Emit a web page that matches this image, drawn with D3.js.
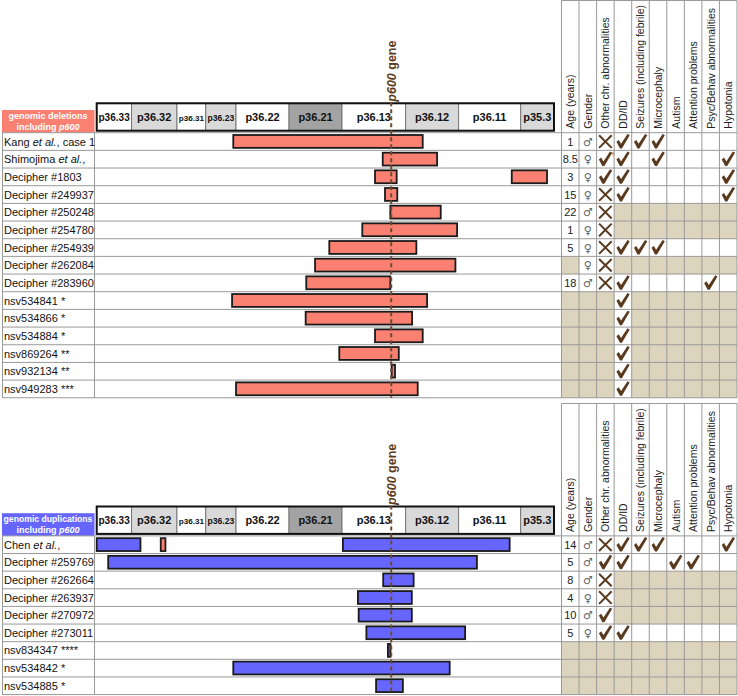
<!DOCTYPE html>
<html>
<head>
<meta charset="utf-8">
<script src="https://cdn.jsdelivr.net/npm/d3@7/dist/d3.min.js"></script>
<style>
  html, body { margin: 0; padding: 0; background: #ffffff; }
  svg { display: block; font-family: "Liberation Sans", Arial, sans-serif; }
</style>
</head>
<body>
<svg id="chart" width="738" height="696"></svg>
<script>
// ---------------- DATA ----------------
const bandNames  = ["p36.33","p36.32","p36.31","p36.23","p36.22","p36.21","p36.13","p36.12","p36.11","p35.3"];
const bandStarts = [0, 2.3, 5.3, 7.2, 9.2, 12.7, 16.2, 20.4, 23.9, 28.0];
const bandEnds   = [2.3, 5.3, 7.2, 9.2, 12.7, 16.2, 20.4, 23.9, 28.0, 30.2];
const bandStain  = ["gneg","gpos25","gneg","gpos25","gneg","gpos50","gneg","gpos25","gneg","gpos25"];
const genePos = 19.45;   // Mb, p600 (UBR4)

const featureColumns = ["Age (years)","Gender","Other chr. abnormalities","DD/ID",
  "Seizures (including febrile)","Microcephaly","Autism","Attention problems",
  "Psyc/Behav abnormalities","Hypotonia"];

// Deletions (labels: |...| = italic)
const delLabels = ["Kang |et al.|, case 1","Shimojima |et al.|,","Decipher #1803","Decipher #249937",
  "Decipher #250248","Decipher #254780","Decipher #254939","Decipher #262084","Decipher #283960",
  "nsv534841 *","nsv534866 *","nsv534884 *","nsv869264 **","nsv932134 **","nsv949283 ***"];
const delSegments = [
  [[9.02,21.53,"del"]],
  [[18.89,22.48,"del"]],
  [[18.38,19.81,"del"],[27.41,29.74,"del"]],
  [[19.04,19.85,"del"]],
  [[19.39,22.72,"del"]],
  [[17.54,23.80,"del"]],
  [[15.36,21.11,"del"]],
  [[14.42,23.69,"del"]],
  [[13.84,19.39,"del"]],
  [[8.94,21.82,"del"]],
  [[13.80,20.83,"del"]],
  [[18.38,21.53,"del"]],
  [[16.02,19.95,"del"]],
  [[19.48,19.70,"del"]],
  [[9.20,21.20,"del"]]
];
const delAge    = ["1","8.5","3","15","22","1","5",null,"18",null,null,null,null,null,null];
const delGender = ["M","F","F","F","M","F","F","F","M",null,null,null,null,null,null];
const delOther  = ["N","Y†","Y","N","N","N","N","N","N",null,null,null,null,null,null];
const N7 = [null,null,null,null,null,null,null];
const D7 = ["Y",null,null,null,null,null,null];
const delFeatures = [
  ["Y","Y","Y","","","",""],
  ["Y","","Y","","","","Y"],
  ["Y","","","","","","Y"],
  ["Y","","","","","","Y"],
  N7, N7,
  ["Y","Y","Y","","","",""],
  N7,
  ["Y","","","","","Y",""],
  D7, D7, D7, D7, D7, D7
];

// Duplications
const dupLabels = ["Chen |et al.|,","Decipher #259769","Decipher #262664","Decipher #263937",
  "Decipher #270972","Decipher #273011","nsv834347 ****","nsv534842 *","nsv534885 *"];
const dupSegments = [
  [[0.0,2.89,"dup"],[4.23,4.54,"del"],[16.26,27.27,"dup"]],
  [[0.76,25.11,"dup"]],
  [[18.92,20.93,"dup"]],
  [[17.25,20.81,"dup"]],
  [[17.30,20.81,"dup"]],
  [[17.81,24.33,"dup"]],
  [[19.23,19.40,"dup"]],
  [[9.02,23.31,"dup"]],
  [[18.45,20.22,"dup"]]
];
const dupAge    = ["14","5","8","4","10","5",null,null,null];
const dupGender = ["M","M","M","F","M","F",null,null,null];
const dupOther  = ["N","Y","N","N","Y","Y",null,null,null];
const dupFeatures = [
  ["Y","Y","Y","","","","Y"],
  ["Y","","","Y","Y","",""],
  N7, N7, N7,
  ["Y","","","","","",""],
  N7, N7, N7
];

// ---------------- DRAWING ----------------
const svg = d3.select("#chart");
const x = d3.scaleLinear().domain([0, 30.2]).range([96.7, 554]);

const stainColor = { gneg: "#ffffff", gpos25: "#d9d9d9", gpos50: "#a3a3a3" };
const kindColor = { del: "#fa8072", dup: "#6666ff" };
const grid = "#999999";
const brown = "#5a3a1f";
const beige = "#ddd4bd";
const tableX0 = 561.5, tableX1 = 737;
const colW = (tableX1 - tableX0) / featureColumns.length;
const xCol = d3.scaleBand().domain(d3.range(featureColumns.length)).range([tableX0, tableX1]);

function addRichText(sel, str) {
  str.split("|").forEach((part, i) => {
    if (!part) return;
    sel.append("tspan").attr("font-style", i % 2 ? "italic" : "normal").text(part);
  });
}

function checkPath(cx, cy) {
  const pts = [[-6.5,0.3],[-4.2,-1.6],[-1.9,2.2],[4.6,-7.6],[6.8,-6.4],[-1.0,6.9],[-3.0,6.9]];
  return "M" + pts.map(p => (cx + p[0]) + "," + (cy + p[1])).join("L") + "Z";
}

function drawSection(cfg) {
  const g = svg.append("g");
  const n = cfg.labels.length;
  const rowH = cfg.rowH;
  const y = d3.scaleBand().domain(d3.range(n)).range([cfg.rowsTop, cfg.rowsTop + n * rowH]);
  const rowsBottom = cfg.rowsTop + n * rowH;

  g.append("rect").attr("x", tableX0).attr("y", cfg.headerTop)
    .attr("width", tableX1 - tableX0).attr("height", cfg.rowsTop - cfg.headerTop).attr("fill", "#fff");

  const cellVals = d3.range(n).map(i => [cfg.age[i], cfg.gender[i], cfg.other[i]].concat(cfg.features[i]));
  cellVals.forEach((vals, i) => {
    vals.forEach((v, j) => {
      if (v === null) {
        g.append("rect").attr("x", xCol(j)).attr("y", y(i))
          .attr("width", xCol.bandwidth()).attr("height", rowH).attr("fill", beige);
      }
    });
  });

  // Band ideogram
  const bandTop = cfg.rowsTop - 29.4, bandBottom = cfg.rowsTop - 2;
  const bg = g.append("g");
  bandNames.forEach((name, i) => {
    bg.append("rect").attr("x", x(bandStarts[i])).attr("y", bandTop)
      .attr("width", x(bandEnds[i]) - x(bandStarts[i])).attr("height", bandBottom - bandTop)
      .attr("fill", stainColor[bandStain[i]]).attr("stroke", "#777").attr("stroke-width", 1);
  });
  bandNames.forEach((name, i) => {
    const w = x(bandEnds[i]) - x(bandStarts[i]);
    const t = bg.append("text").attr("x", (x(bandStarts[i]) + x(bandEnds[i])) / 2)
      .attr("y", (bandTop + bandBottom) / 2 + 4).attr("text-anchor", "middle")
      .attr("font-size", 11).attr("font-weight", "bold").attr("fill", "#111").text(name);
    const tw = t.node().getComputedTextLength();
    if (tw > w - 3) t.attr("font-size", 11 * (w - 3.5) / tw);
  });
  bg.append("rect").attr("x", x(0)).attr("y", bandTop)
    .attr("width", x(30.2) - x(0)).attr("height", bandBottom - bandTop)
    .attr("fill", "none").attr("stroke", "#111").attr("stroke-width", 2);

  // Section label box
  const lbTop = cfg.rowsTop - 22.7;
  g.append("rect").attr("x", 2).attr("y", lbTop).attr("width", 92.5).attr("height", cfg.rowsTop - lbTop)
    .attr("fill", cfg.boxColor);
  const t1 = g.append("text").attr("x", 48).attr("y", lbTop + 9).attr("text-anchor", "middle")
    .attr("font-size", 9).attr("font-weight", "bold").attr("fill", "#fff").text(cfg.boxLine1);
  const t1w = t1.node().getComputedTextLength();
  if (t1w > 89) t1.attr("font-size", 9 * 89 / t1w);
  const t2 = g.append("text").attr("x", 48).attr("y", lbTop + 19.5).attr("text-anchor", "middle")
    .attr("font-size", 9).attr("font-weight", "bold").attr("fill", "#fff");
  addRichText(t2, "including |p600|");

  // Grid lines
  d3.range(n + 1).forEach(i => {
    const yy = cfg.rowsTop + i * rowH;
    g.append("line").attr("x1", 2).attr("x2", tableX1).attr("y1", yy).attr("y2", yy)
      .attr("stroke", grid).attr("stroke-width", 1);
  });
  g.append("line").attr("x1", tableX0).attr("x2", tableX1).attr("y1", cfg.headerTop).attr("y2", cfg.headerTop)
    .attr("stroke", grid).attr("stroke-width", 1);
  [2.5, 94.5].forEach(xx => {
    g.append("line").attr("x1", xx).attr("x2", xx).attr("y1", cfg.rowsTop).attr("y2", rowsBottom)
      .attr("stroke", grid).attr("stroke-width", 1);
  });
  d3.range(featureColumns.length + 1).forEach(j => {
    const xx = tableX0 + j * colW;
    g.append("line").attr("x1", xx).attr("x2", xx).attr("y1", cfg.headerTop).attr("y2", rowsBottom)
      .attr("stroke", grid).attr("stroke-width", 1);
  });

  // Header texts (rotated)
  featureColumns.forEach((c, j) => {
    g.append("text")
      .attr("transform", `translate(${xCol(j) + colW / 2 + 4},${cfg.rowsTop - 4}) rotate(-90)`)
      .attr("font-size", 10.5).attr("fill", "#222").text(c);
  });

  // Row labels
  cfg.labels.forEach((lab, i) => {
    const t = g.append("text").attr("x", 4).attr("y", y(i) + rowH / 2 + 4)
      .attr("font-size", 11).attr("fill", "#111");
    addRichText(t, lab);
  });

  // Bars
  cfg.segments.forEach((segs, i) => {
    segs.forEach(s => {
      g.append("rect").attr("x", x(s[0])).attr("y", y(i) + 2.3)
        .attr("width", Math.max(0.5, x(s[1]) - x(s[0]))).attr("height", rowH - 4.8)
        .attr("fill", kindColor[s[2]]).attr("stroke", "#1a1a1a").attr("stroke-width", 1.8);
    });
  });

  // Gene line + label
  const gx = x(genePos);
  g.append("line").attr("x1", gx).attr("x2", gx).attr("y1", cfg.rowsTop - 30.5).attr("y2", rowsBottom)
    .attr("stroke", "#6b4a2e").attr("stroke-width", 2).attr("stroke-dasharray", "4,3");
  const gt = g.append("text")
    .attr("transform", `translate(${gx + 4.5},${cfg.rowsTop - 31}) rotate(-90)`)
    .attr("font-size", 12.5).attr("font-weight", "bold").attr("fill", "#5b3b22");
  addRichText(gt, "|p600| gene");

  // Cell contents
  cellVals.forEach((vals, i) => {
    const cy = y(i) + rowH / 2;
    vals.forEach((v, j) => {
      if (v === null || v === "") return;
      const cx = xCol(j) + colW / 2;
      if (j === 0) {
        g.append("text").attr("x", cx).attr("y", cy + 4).attr("text-anchor", "middle")
          .attr("font-size", 11).attr("fill", "#222").text(v);
      } else if (j === 1) {
        g.append("text").attr("x", cx).attr("y", cy + 4).attr("text-anchor", "middle")
          .attr("font-family", "DejaVu Sans").attr("font-size", 11).attr("fill", "#666")
          .text(v === "M" ? "♂" : "♀");
      } else if (v === "N") {
        g.append("path").attr("d", `M${cx - 6.3},${cy - 6.3}L${cx + 6.3},${cy + 6.3}M${cx + 6.3},${cy - 6.3}L${cx - 6.3},${cy + 6.3}`)
          .attr("stroke", brown).attr("stroke-width", 2).attr("fill", "none");
      } else {
        g.append("path").attr("d", checkPath(cx, cy)).attr("fill", brown);
        if (v === "Y†") {
          g.append("text").attr("x", cx + 7.5).attr("y", cy - 3).attr("text-anchor", "middle")
            .attr("font-size", 6).attr("fill", brown).text("†");
        }
      }
    });
  });
}

drawSection({
  labels: delLabels, segments: delSegments, age: delAge, gender: delGender,
  other: delOther, features: delFeatures,
  headerTop: 0.5, rowsTop: 132.7, rowH: 17.67,
  boxColor: "#fa8072", boxLine1: "genomic deletions"
});
drawSection({
  labels: dupLabels, segments: dupSegments, age: dupAge, gender: dupGender,
  other: dupOther, features: dupFeatures,
  headerTop: 403.5, rowsTop: 535.9, rowH: 17.63,
  boxColor: "#6666ff", boxLine1: "genomic duplications"
});
</script>
</body>
</html>
